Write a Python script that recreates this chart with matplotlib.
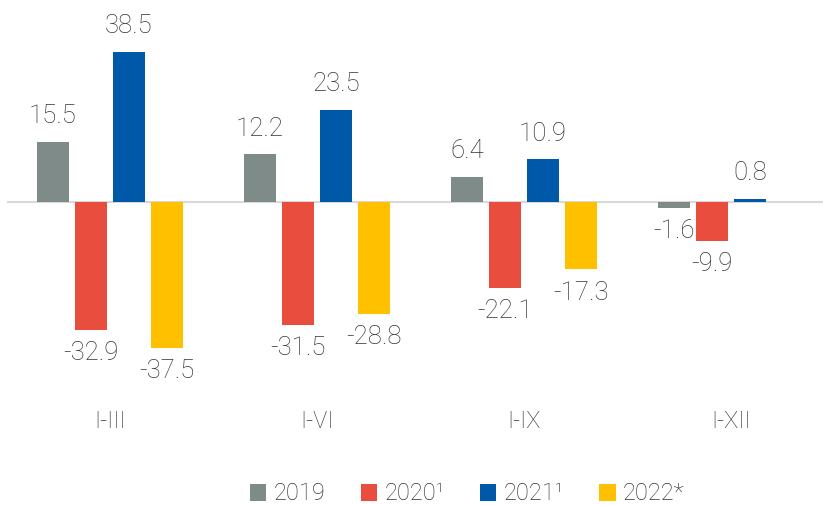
import numpy as np
import matplotlib.pyplot as plt

plt.rcParams['font.family'] = ['Roboto', 'DejaVu Sans']

periods = ["I-III", "I-VI", "I-IX", "I-XII"]
series = ["2019", "2020¹", "2021¹", "2022*"]
v2019 = [15.5, 12.2, 6.4, -1.6]
v2020 = [-32.9, -31.5, -22.1, -9.9]
v2021 = [38.5, 23.5, 10.9, 0.8]
v2022 = [-37.5, -28.8, -17.3, None]
colors = ["#7f8b89", "#e84d3d", "#0058a8", "#ffc000"]

fig = plt.figure(figsize=(8.23, 5.05), dpi=100)
ax = fig.add_axes([0, 1 - 400 / 505, 1, 380 / 505])

x = np.arange(len(periods))
step = 0.1836
width = 0.15
txt = "#333333"

for k, (vals, col, name) in enumerate(zip([v2019, v2020, v2021, v2022], colors, series)):
    xs = [xi + (k - 1.5) * step for xi, v in zip(x, vals) if v is not None]
    vs = [v for v in vals if v is not None]
    bars = ax.bar(xs, vs, width=width, color=col, label=name, zorder=2)
    for b, v in zip(bars, vs):
        if v >= 0:
            ax.annotate(f"{v:.1f}", (b.get_x() + b.get_width() / 2, v),
                        xytext=(0, 10), textcoords="offset points",
                        ha="center", va="bottom", fontsize=18.5, color=txt,
                        fontweight="light")
        else:
            ax.annotate(f"{v:.1f}", (b.get_x() + b.get_width() / 2, v),
                        xytext=(0, -8), textcoords="offset points",
                        ha="center", va="top", fontsize=18.5, color=txt,
                        fontweight="light")

ax.set_xlim(-110 / 207, 713 / 207)
ax.set_ylim(-(400 - 202) / 3.9, (202 - 20) / 3.9)
ax.hlines(0, (7 - 110) / 207, 713 / 207, color="#d9d9d9", linewidth=1.5, zorder=1)
ax.set_xticks(x)
ax.set_xticklabels(periods, fontsize=17, color=txt, fontweight="light")
ax.tick_params(axis="x", length=0, pad=7)
ax.set_yticks([])
for s in ax.spines.values():
    s.set_visible(False)

fig.legend(loc="center", bbox_to_anchor=(467 / 823, 1 - 494 / 505), ncol=4,
           frameon=False, handlelength=0.7, handleheight=0.7,
           handletextpad=0.3, columnspacing=1.5, labelcolor=txt,
           prop={"weight": "light", "size": 17})

fig.savefig("out.png", dpi=100)
